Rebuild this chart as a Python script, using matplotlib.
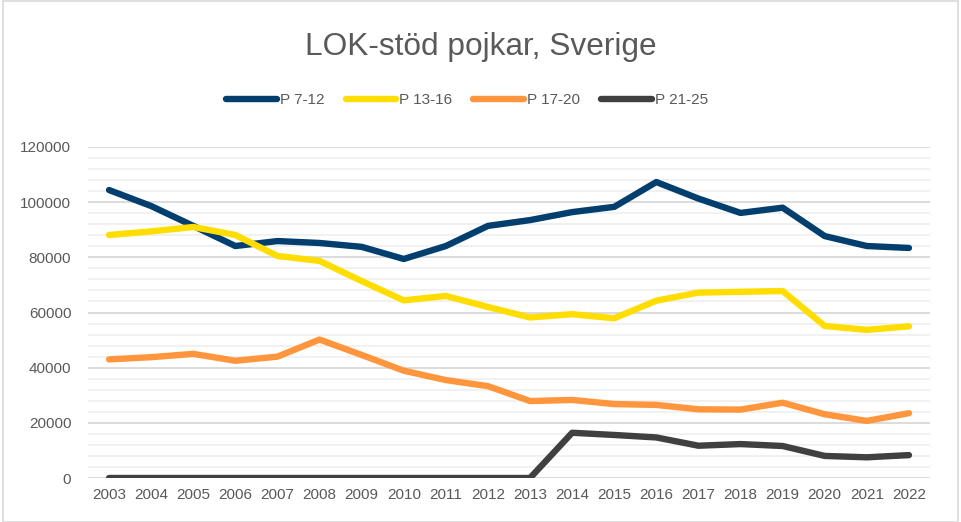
import matplotlib
matplotlib.use("Agg")
import matplotlib.pyplot as plt
from matplotlib.patches import Rectangle
from matplotlib.ticker import MultipleLocator

plt.rcParams['font.family'] = ['Liberation Sans', 'DejaVu Sans']

years = [2003, 2004, 2005, 2006, 2007, 2008, 2009, 2010, 2011, 2012,
         2013, 2014, 2015, 2016, 2017, 2018, 2019, 2020, 2021, 2022]
p7_12 = [104400, 98600, 91400, 84100, 85900, 85200, 83800, 79400, 84100, 91400,
         93500, 96400, 98300, 107300, 101300, 96100, 98000, 87700, 84100, 83400]
p13_16 = [88100, 89400, 91000, 88100, 80500, 78700, 71400, 64400, 66000, 62000,
          58200, 59400, 57900, 64300, 67200, 67500, 67800, 55100, 53700, 55000]
p17_20 = [43000, 43800, 45000, 42500, 44000, 50200, 44600, 38900, 35500, 33300,
          27900, 28300, 26800, 26500, 24900, 24800, 27300, 23100, 20700, 23500]
p21_25 = [0, 0, 0, 0, 0, 0, 0, 0, 0, 0,
          0, 16400, 15600, 14700, 11700, 12300, 11600, 8000, 7500, 8300]

series_names = ["P 7-12", "P 13-16", "P 17-20", "P 21-25"]
colors = ["#023E6E", "#FFDD00", "#FF963D", "#404040"]
title = "LOK-stöd pojkar, Sverige"

fig = plt.figure(figsize=(9.61, 5.22), dpi=100)
ax = fig.add_axes([88/961, 1-478/522, (930-88)/961, (478-147)/522])

x = list(range(len(years)))
for vals, name, c in zip([p7_12, p13_16, p17_20, p21_25], series_names, colors):
    ax.plot(x, vals, color=c, lw=4.6, label=name,
            solid_capstyle='round', solid_joinstyle='round', zorder=3)

ax.set_xlim(-0.5, len(years) - 0.5)
ax.set_ylim(0, 120000)
ax.yaxis.set_major_locator(MultipleLocator(20000))
ax.yaxis.set_minor_locator(MultipleLocator(4000))
ax.set_xticks(x)
ax.set_xticklabels([str(y) for y in years])
ax.grid(axis='y', which='major', color='#D9D9D9', lw=1.3, zorder=1)
ax.grid(axis='y', which='minor', color='#F0F0F0', lw=1.3, zorder=0)
for s in ax.spines.values():
    s.set_visible(False)
ax.tick_params(axis='both', which='both', length=0, labelsize=11, labelcolor='#595959')
ax.tick_params(axis='y', pad=12)
ax.tick_params(axis='x', pad=7)

fig.text(0.5, 1-47/522, title, ha='center', va='center', fontsize=22.8, color='#595959')

leg = fig.legend(loc='center', bbox_to_anchor=(0.486, 1-100/522), ncol=4, frameon=False,
                 fontsize=11, handlelength=3.3, handletextpad=0.2, columnspacing=1.4,
                 labelcolor='#595959')

fig.patches.append(Rectangle((3/961, 0.5/522), 955/961, 521/522, transform=fig.transFigure,
                             fill=False, edgecolor='#D9D9D9', lw=1.2))

fig.savefig("out.png", dpi=100)
